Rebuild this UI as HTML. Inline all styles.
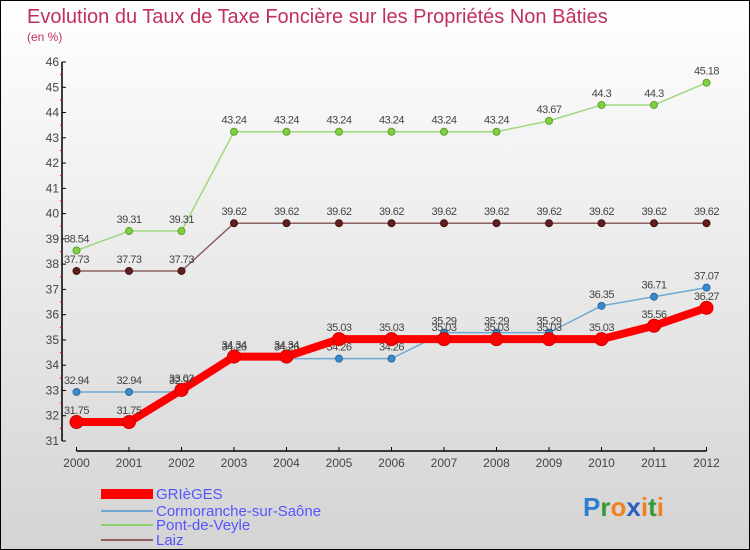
<!DOCTYPE html>
<html><head><meta charset="utf-8"><style>
body{margin:0}
#wrap{position:relative;width:750px;height:550px;box-sizing:border-box;border:1px solid #000;background:linear-gradient(#fff,#d4d4d4);font-family:"Liberation Sans",sans-serif;overflow:hidden}
</style></head><body>
<div id="wrap">
<svg id="c" width="750" height="550" style="position:absolute;left:0;top:0">
<text x="26" y="22" font-size="20" fill="#c0305a">Evolution du Taux de Taxe Foncière sur les Propriétés Non Bâties</text>
<text x="26" y="40" font-size="12" fill="#c0305a">(en %)</text>
<g id="axes"></g><g id="series"></g>
<g>
<rect x="100" y="488" width="52" height="10" fill="#f00"/>
<text x="155" y="498" font-size="15" fill="#5555ff">GRIèGES</text>
<rect x="100" y="509" width="52" height="2" fill="#6fa8d0"/>
<text x="155" y="515" font-size="15" fill="#5555ff">Cormoranche-sur-Saône</text>
<rect x="100" y="523" width="52" height="2" fill="#90d070"/>
<text x="155" y="529" font-size="15" fill="#5555ff">Pont-de-Veyle</text>
<rect x="100" y="538" width="52" height="2" fill="#906060"/>
<text x="155" y="544" font-size="15" fill="#5555ff">Laiz</text>
</g>
<text x="582" y="515" font-size="26" font-weight="bold"><tspan fill="#2a7fd0">P</tspan><tspan fill="#3a9a3a">r</tspan><tspan fill="#f08020">o</tspan><tspan fill="#2a60c0">x</tspan><tspan fill="#f08020">i</tspan><tspan fill="#3a9a3a">t</tspan><tspan fill="#f08020">i</tspan></text>
</svg></div>
<script>
const years=[2000,2001,2002,2003,2004,2005,2006,2007,2008,2009,2010,2011,2012];
const grieges=[31.75,31.75,33.02,34.34,34.34,35.03,35.03,35.03,35.03,35.03,35.03,35.56,36.27];
const cormoranche=[32.94,32.94,32.94,34.26,34.26,34.26,34.26,35.29,35.29,35.29,36.35,36.71,37.07];
const pont=[38.54,39.31,39.31,43.24,43.24,43.24,43.24,43.24,43.24,43.67,44.3,44.3,45.18];
const laiz=[37.73,37.73,37.73,39.62,39.62,39.62,39.62,39.62,39.62,39.62,39.62,39.62,39.62];
const yTicks=[31,32,33,34,35,36,37,38,39,40,41,42,43,44,45,46];
const NS="http://www.w3.org/2000/svg";
const x=i=>75.5+i*52.5;
const y=v=>440-(v-31)*(379/15);
function mk(t,a,p){const e=document.createElementNS(NS,t);for(const k in a)e.setAttribute(k,a[k]);p.appendChild(e);return e;}
const ax=document.getElementById('axes');
let l=mk('line',{x1:61,y1:y(46),x2:61,y2:y(31),stroke:'#000','stroke-width':1.5},ax);

l=mk('line',{x1:x(0),y1:450,x2:x(12),y2:450,stroke:'#000','stroke-width':1.5},ax);

yTicks.forEach(v=>{
 mk('line',{x1:61,y1:y(v),x2:65,y2:y(v),stroke:'#000'},ax);
 if(v<46)mk('line',{x1:59,y1:y(v+0.5),x2:61,y2:y(v+0.5),stroke:'#f00'},ax);
 const t=mk('text',{x:58,y:y(v)+4,'font-size':12,fill:'#444','text-anchor':'end'},ax);t.textContent=v;
 
});
years.forEach((yr,i)=>{
 mk('line',{x1:x(i),y1:446,x2:x(i),y2:450,stroke:'#000'},ax);
 const t=mk('text',{x:x(i),y:466,'font-size':12,fill:'#444','text-anchor':'middle'},ax);t.textContent=yr;
 
});
const sg=document.getElementById('series');
function draw(vals,name,col,w,r,dot,dotStroke){
 const g=mk('g',{},sg);
 
 const p=mk('polyline',{points:vals.map((v,i)=>x(i)+','+y(v)).join(' '),fill:'none',stroke:col,'stroke-width':w,'stroke-linejoin':'round'},g);
 
 vals.forEach((v,i)=>{
  const c=mk('circle',{cx:x(i),cy:y(v),r:r,fill:dot,stroke:dotStroke,'stroke-width':1},g);
  
  const t=mk('text',{x:x(i),y:y(v)-8,'font-size':11,fill:'#444','text-anchor':'middle','letter-spacing':'-0.5'},g);t.textContent=v;
  
 });
}
draw(pont,'pont-de-veyle','#a0d880',1.5,3.5,'#80d040','#60a030');
draw(laiz,'laiz','#906060',1.5,3.5,'#602020','#401010');
draw(cormoranche,'cormoranche','#6fa8d0',1.5,3.5,'#3a8ad0','#2a6aa0');
draw(grieges,'grieges','#f00',8,6.5,'#f00','#c00');
</script>
</body></html>
